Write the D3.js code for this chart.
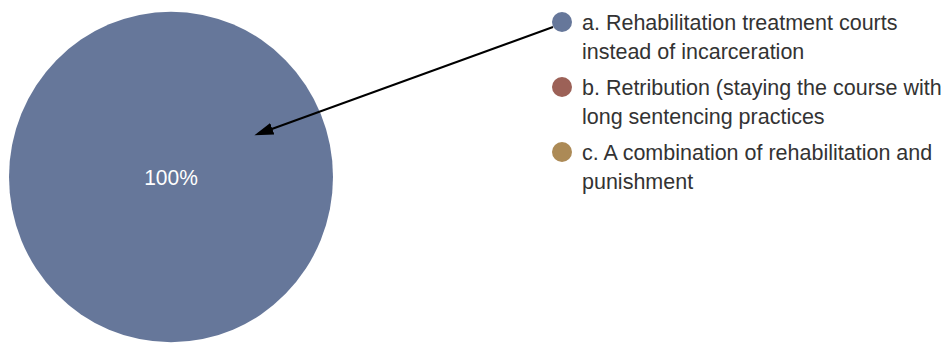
<!DOCTYPE html>
<html>
<head>
<meta charset="utf-8">
<script src="https://cdn.jsdelivr.net/npm/d3@7"></script>
<style>
  body { margin: 0; background: #fff; }
  svg { display: block; }
</style>
</head>
<body>
<div id="chart"></div>
<script>
// chart data
var categories = [
  "a. Rehabilitation treatment courts instead of incarceration",
  "b. Retribution (staying the course with long sentencing practices",
  "c. A combination of rehabilitation and punishment"
];
var legendLines = [
  ["a. Rehabilitation treatment courts", "instead of incarceration"],
  ["b. Retribution (staying the course with", "long sentencing practices"],
  ["c. A combination of rehabilitation and", "punishment"]
];
var values = [100, 0, 0];
var colors = ["#66779a", "#9c6157", "#ac8a56"];

var width = 947, height = 349;
var font = "'Liberation Sans', Arial, sans-serif";

var svg = d3.select("#chart").append("svg")
    .attr("width", width)
    .attr("height", height);

// marker for the callout arrow
svg.append("defs").append("marker")
    .attr("id", "arrow")
    .attr("viewBox", "0 0 10 10")
    .attr("refX", 8).attr("refY", 5)
    .attr("markerUnits", "userSpaceOnUse")
    .attr("markerWidth", 19).attr("markerHeight", 19)
    .attr("orient", "auto")
    .append("path")
    .attr("d", "M0,1.8 L10,5 L0,8.2 Z")
    .attr("fill", "#000");

// pie
var cx = 171, cy = 177, radius = 162;
var pie = d3.pie().sort(null).value(function(d) { return d; });
var arc = d3.arc().innerRadius(0).outerRadius(radius);
var colorScale = d3.scaleOrdinal().domain(categories).range(colors);

var g = svg.append("g")
    .attr("transform", "translate(" + cx + "," + cy + ") scale(1,1.02)");

var arcs = pie(values);

g.selectAll("path")
    .data(arcs)
    .enter()
    .append("path")
    .attr("d", arc)
    .attr("fill", function(d, i) { return colorScale(categories[i]); });

// percent labels (only for non-empty slices)
var total = d3.sum(values);
g.selectAll("text.pct")
    .data(arcs.filter(function(d) { return d.value > 0; }))
    .enter()
    .append("text")
    .attr("class", "pct")
    .attr("text-anchor", "middle")
    .attr("dy", "0.35em")
    .attr("transform", function(d) {
        // a full slice puts its label in the middle
        if (d.endAngle - d.startAngle >= 2 * Math.PI - 1e-6) return "translate(0,0)";
        return "translate(" + arc.centroid(d) + ")";
    })
    .attr("font-family", font)
    .attr("font-size", "21px")
    .attr("fill", "#fff")
    .text(function(d) { return Math.round(d.value / total * 100) + "%"; });

// legend
var legendX = 562, legendY = 22, itemGap = 65, lineGap = 29;

var legend = svg.selectAll("g.legend")
    .data(categories)
    .enter().append("g")
    .attr("class", "legend")
    .attr("transform", function(d, i) {
        return "translate(" + legendX + "," + (legendY + i * itemGap) + ")";
    });

legend.append("circle")
    .attr("r", 10)
    .attr("fill", function(d) { return colorScale(d); });

legend.append("text")
    .attr("x", 20)
    .attr("font-family", font)
    .attr("font-size", "21.5px")
    .attr("fill", "#333")
    .selectAll("tspan")
    .data(function(d, i) { return legendLines[i]; })
    .enter().append("tspan")
    .attr("x", 20)
    .attr("y", function(d, j) { return j * lineGap; })
    .attr("dy", "0.35em")
    .text(function(d) { return d; });

// callout arrow from legend item a to the slice
svg.append("line")
    .attr("x1", legendX - 9).attr("y1", legendY + 5)
    .attr("x2", 258).attr("y2", 134)
    .attr("stroke", "#000")
    .attr("stroke-width", 2)
    .attr("marker-end", "url(#arrow)");
</script>
</body>
</html>
